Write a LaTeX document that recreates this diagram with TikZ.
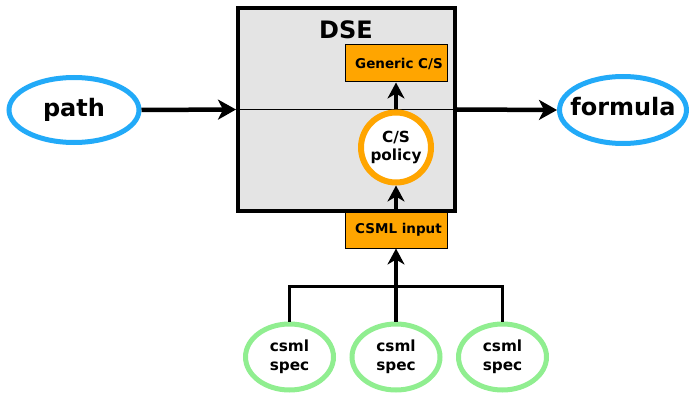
\documentclass[tikz,border=0pt]{standalone}
\usepackage{fontspec}
\setmainfont{DejaVu Sans}
\usetikzlibrary{shapes.geometric,arrows.meta}
\definecolor{skyb}{HTML}{22AAF8}
\definecolor{orng}{HTML}{FFA500}
\definecolor{lgrn}{HTML}{90EE90}
\definecolor{dsegray}{HTML}{E4E4E4}
\tikzset{
  bigfont/.style={font=\fontsize{24}{28}\selectfont\bfseries},
  midfont/.style={font=\fontsize{15.3}{18.5}\selectfont\bfseries},
  smallfont/.style={font=\fontsize{13.5}{16}\selectfont\bfseries},
  ioell/.style={ellipse, draw=skyb, line width=5pt, fill=white, inner sep=0pt},
  specell/.style={ellipse, draw=lgrn, line width=5pt, fill=white, inner sep=0pt, minimum width=88pt, minimum height=66pt, align=center, midfont},
  obox/.style={rectangle, draw=black, line width=1pt, fill=orng, inner sep=0pt, minimum width=102pt, smallfont},
  bigarrow/.style={line width=4.5pt, -{Stealth[length=18pt,width=20pt,inset=5pt]}},
  smarrow/.style={line width=3.5pt, -{Stealth[length=16pt,width=17pt,inset=5pt]}},
  plainline/.style={line width=3pt},
}
\begin{document}
\begin{tikzpicture}[x=1pt,y=-1pt]
\useasboundingbox (0,0) rectangle (690,393);
% DSE box
\node[rectangle, draw=black, line width=4pt, fill=dsegray, minimum width=217pt, minimum height=203pt, inner sep=0pt] (dse) at (346.5,109.5) {};
\node[bigfont] (dsetitle) at (346,30) {DSE};
\draw[line width=1.5pt] (dse.west) -- (dse.east);
% inner nodes
\node[obox, minimum height=37pt] (generic) at (396,63.5) {\hspace*{6pt}Generic C/S};
\node[circle, draw=orng, line width=6pt, fill=white, minimum size=70pt, inner sep=0pt, align=center, midfont] (policy) at (396,147.5) {C/S\\policy};
\node[obox, minimum height=36pt] (csml) at (396,230) {\hspace*{5pt}CSML input};
% io
\node[ioell, minimum width=130pt, minimum height=65pt, bigfont] (path) at (74,110) {path};
\node[ioell, minimum width=127pt, minimum height=67pt] (formula) at (623,110) {};
\node[bigfont, inner sep=0pt] (formulatext) at (623,107) {formula};
% specs
\node[specell] (s1) at (289.5,357) {csml\\spec};
\node[specell] (s2) at (396,357) {csml\\spec};
\node[specell] (s3) at (502.5,357) {csml\\spec};
\coordinate (join) at (396,286);
% connectors
\draw[bigarrow] (path.east) -- (dse.west);
\draw[bigarrow] (dse.east) -- (formula.west);
\draw[smarrow] (policy.north) -- (generic.south);
\draw[smarrow] (csml.north) -- (policy.south);
\draw[plainline] (s1.north) |- (join);
\draw[plainline] (s3.north) |- (join);
\draw[smarrow] (s2.north) -- (csml.south);
\end{tikzpicture}
\end{document}
